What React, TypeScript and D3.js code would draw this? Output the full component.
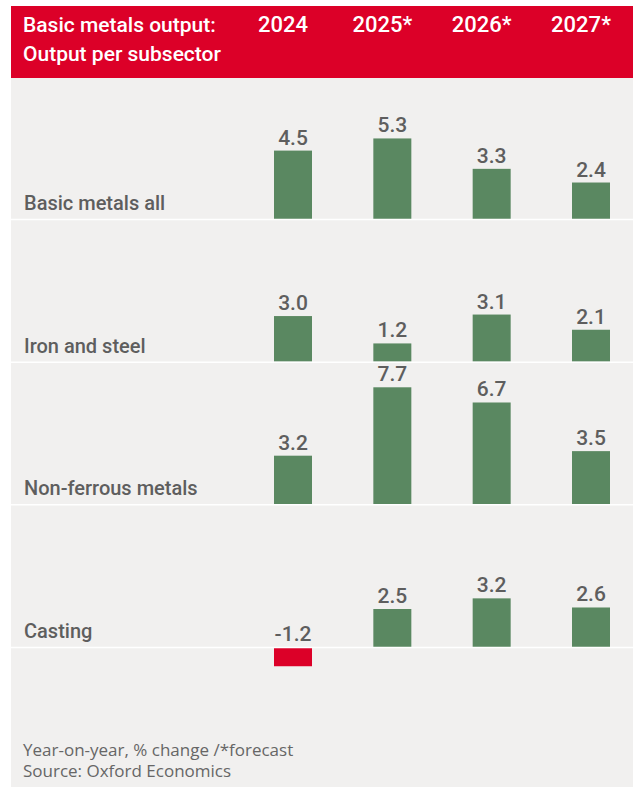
import React from 'react';
import * as d3 from 'd3';

const categories = ['Basic metals all', 'Iron and steel', 'Non-ferrous metals', 'Casting'];
const years = ['2024', '2025*', '2026*', '2027*'];
const values2024 = [4.5, 3.0, 3.2, -1.2];
const values2025 = [5.3, 1.2, 7.7, 2.5];
const values2026 = [3.3, 3.1, 6.7, 3.2];
const values2027 = [2.4, 2.1, 3.5, 2.6];
const series = [values2024, values2025, values2026, values2027];
const titleLines = ['Basic metals output:', 'Output per subsector'];
const notes = ['Year-on-year, % change /*forecast', 'Source: Oxford Economics'];

const W = 633;
const H = 787;
const RED = '#dc0028';
const GREEN = '#5a8861';
const BG = '#f1f0ef';
const GREY = '#5e5e5e';
const FONT = 'Roboto, "Noto Sans", sans-serif';

// plain hyphen for negatives, like the source
const fmt = d3.formatLocale({ decimal: '.', thousands: ',', grouping: [3], currency: ['', ''], minus: '-' }).format('.1f');

const App = () => {
  // columns (bar centres) and row baselines
  const x = d3.scalePoint<string>().domain(years).range([293, 591]);
  const y = d3.scalePoint<string>().domain(categories).range([219, 647]);
  const h = d3.scaleLinear().domain([0, 1]).range([0, 15.2]);
  const barW = 38;

  return (
    <svg width={W} height={H} style={{ position: 'absolute', left: 0, top: 0 }} fontFamily={FONT}>
      <rect x={11} y={6} width={W - 11} height={72} fill={RED} />
      <rect x={11} y={78} width={W - 11} height={H - 78} fill={BG} />

      {titleLines.map((t, i) => (
        <text key={t} x={23} y={32 + i * 29} fill="#fff" fontSize={21} fontWeight={500}>
          {t}
        </text>
      ))}
      {years.map(yr => (
        <text key={yr} x={(x(yr) as number) - 10} y={32} fill="#fff" fontSize={22} fontWeight={500} textAnchor="middle">
          {yr}
        </text>
      ))}

      {categories.map((c, ci) => {
        const base = y(c) as number;
        return (
          <g key={c}>
            <text x={24} y={base - 9} fill={GREY} fontSize={20} fontWeight={500}>
              {c}
            </text>
            {years.map((yr, yi) => {
              const v = series[yi][ci];
              const cx = x(yr) as number;
              const top = v >= 0 ? base - h(v) : base + 1;
              const labelY = v >= 0 ? base - h(v) - 6 : base - 6;
              return (
                <g key={yr}>
                  <rect x={cx - barW / 2} y={top} width={barW} height={Math.abs(h(v))} fill={v >= 0 ? GREEN : RED} />
                  <text x={cx} y={labelY} fill={GREY} fontSize={21} fontWeight={500} textAnchor="middle">
                    {fmt(v)}
                  </text>
                </g>
              );
            })}
            <line x1={11} x2={W} y1={base + 0.5} y2={base + 0.5} stroke="#fff" strokeWidth={1.5} />
          </g>
        );
      })}

      {notes.map((n, i) => (
        <text key={n} x={23} y={756 + i * 21} fill="#666" fontSize={17} fontFamily='"Open Sans", sans-serif'>
          {n}
        </text>
      ))}
    </svg>
  );
};

export default App;
